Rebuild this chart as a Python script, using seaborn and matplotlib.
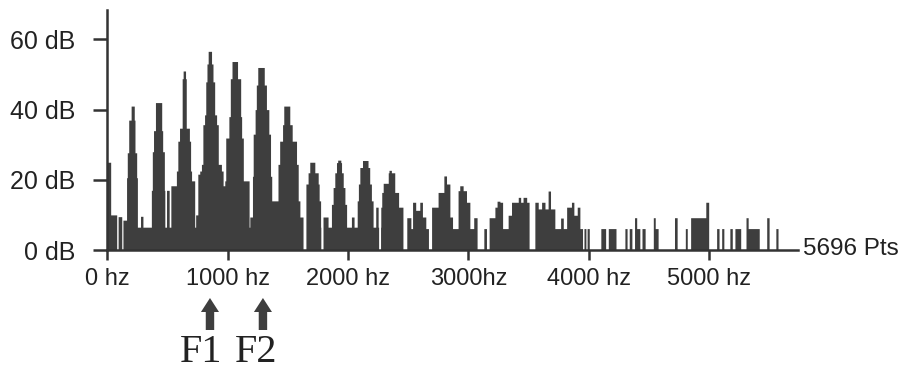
import numpy as np
import pandas as pd
import seaborn as sns
import matplotlib
matplotlib.use("Agg")
import matplotlib.pyplot as plt
import matplotlib.transforms as mtransforms
from matplotlib.patches import FancyArrow

# ---------------- data ----------------
# step segments of the spectrum: (start Hz, end Hz, level dB); overlapping steps combine by maximum
floor_steps = [(131, 2500, 6.5), (2500, 3949, 6.1)]

harmonic_steps_low = [
    (0, 29, 25), (29, 79, 10), (91, 120, 9.5), (131, 162, 8.5),
    (160, 251, 20.6), (166, 245, 27.7), (179, 231, 37), (199, 224, 41),
    (276, 297, 9.6),
    (367, 478, 17), (374, 474, 28), (384, 461, 34), (401, 452, 42),
    (492, 514, 17), (528, 575, 18.3),
    (575, 700, 22.5), (586, 693, 31), (600, 682, 34.7), (623, 657, 48.8), (630, 650, 51),
    (700, 727, 19.7), (735, 752, 10),
    (752, 783, 21.6), (769, 962, 22.5), (783, 949, 24.4), (794, 923, 35.7),
    (808, 909, 38.5), (819, 893, 47.9), (829, 879, 53), (838, 866, 56.6),
    (957, 985, 18.3),
    (976, 1178, 19.7), (985, 1130, 31.9), (1010, 1117, 38), (1022, 1109, 48.8), (1037, 1082, 53.7),
    (1184, 1207, 9.4),
    (1207, 1367, 21), (1212, 1357, 33), (1228, 1342, 40), (1238, 1322, 47), (1250, 1305, 52),
    (1367, 1406, 14),
    (1406, 1600, 14), (1419, 1586, 24.4), (1433, 1572, 31), (1456, 1536, 35.7), (1466, 1517, 41),
    (1600, 1627, 9.4),
]

harmonic_steps_mid = [
    (1647, 1772, 14), (1650, 1760, 18.8), (1669, 1752, 22), (1683, 1724, 25),
    (1793, 1835, 9.4),
    (1863, 1988, 13), (1877, 1975, 17.8), (1891, 1960, 22), (1905, 1946, 24.9), (1915, 1940, 25.6),
    (2029, 2051, 9.4),
    (2076, 2209, 14), (2087, 2195, 18.8), (2098, 2181, 23.5), (2121, 2167, 25.5),
    (2231, 2250, 12.2),
    (2273, 2445, 12.2), (2280, 2420, 16.4), (2292, 2362, 19), (2334, 2389, 22), (2340, 2360, 22.7),
    (2414, 2456, 12.2),
    (2489, 2522, 9.2),
    (2536, 2563, 13.6), (2563, 2597, 11.3), (2597, 2619, 13.6), (2619, 2646, 9.4),
    (2694, 2790, 12.2), (2749, 2796, 16.4), (2796, 2819, 21.1), (2819, 2846, 18.8), (2846, 2869, 9.4),
    (2915, 2985, 16.9), (2929, 2957, 18.3), (2985, 3012, 13.6),
    (3045, 3073, 9.2),
    (3173, 3220, 9.2), (3220, 3262, 12.2), (3239, 3262, 13.9), (3262, 3284, 13.6),
    (3331, 3359, 9.9), (3359, 3414, 13.6), (3414, 3434, 15), (3434, 3455, 13.6),
    (3455, 3484, 15), (3484, 3505, 13.6),
    (3553, 3580, 13.6), (3580, 3608, 11.7), (3608, 3636, 13.6), (3636, 3663, 11.7),
    (3663, 3683, 16.8), (3683, 3719, 11.7),
    (3766, 3788, 9.1),
    (3816, 3857, 12.2), (3857, 3877, 13.6), (3877, 3904, 9.9), (3904, 3926, 12.2),
]

high_band_spikes = [
    (3960, 3976, 6.1), (3987, 4004, 6.1), (4100, 4140, 6.1), (4162, 4226, 6.1),
    (4300, 4319, 6.1), (4336, 4359, 6.1), (4381, 4398, 9.2), (4398, 4425, 6.1),
    (4443, 4469, 6.1), (4536, 4552, 9.2), (4552, 4577, 6.1), (4713, 4735, 9.2),
    (4802, 4818, 6.1), (4846, 4973, 9.2), (4973, 4996, 13.6), (5062, 5082, 6.1),
    (5104, 5123, 6.1), (5173, 5192, 6.1), (5215, 5262, 6.1), (5306, 5325, 9.2),
    (5325, 5416, 6.1), (5478, 5499, 9.2), (5555, 5572, 6.1),
]

# places where the spectrum drops to 0 dB: (start Hz, end Hz)
gaps_hz = [(79, 91), (120, 131), (1627, 1650), (1774, 1793), (2254, 2270),
           (2456, 2489), (2669, 2694), (3073, 3129), (3151, 3173), (3505, 3553)]

x_ticks_hz = [0, 1000, 2000, 3000, 4000, 5000]
x_tick_labels = ["0 hz", "1000 hz", "2000 hz", "3000hz", "4000 hz", "5000 hz"]
y_ticks_db = [0, 20, 40, 60]
y_tick_labels = ["0 dB", "20 dB", "40 dB", "60 dB"]
points_label = "5696 Pts"
formants = ["F1", "F2"]
formant_arrow_hz = [853, 1293]
formant_label_hz = [775, 1240]

# ---------------- build step spectrum ----------------
x_max = 5738
bin_w = 2.0
edges = np.arange(0, x_max + bin_w, bin_w)
centers = (edges[:-1] + edges[1:]) / 2
level = np.zeros_like(centers)
for lo, hi, db in floor_steps + harmonic_steps_low + harmonic_steps_mid + high_band_spikes:
    m = (centers >= lo) & (centers < hi)
    level[m] = np.maximum(level[m], db)
for lo, hi in gaps_hz:
    level[(centers >= lo) & (centers < hi)] = 0
df = pd.DataFrame({"freq": centers, "db": level})

# ---------------- draw ----------------
sns.set_theme(style="white")
plt.rcParams["font.family"] = ["Liberation Sans", "DejaVu Sans"]
ink = "#3e3e3e"
axis_col = "#333333"
text_col = "#222222"

fig = plt.figure(figsize=(9.05, 3.70), dpi=100)
ax = fig.add_axes([107.3 / 905, 120 / 370, (798 - 107.3) / 905, (250 - 10) / 370])

sns.histplot(data=df, x="freq", weights="db", binwidth=bin_w,
             binrange=(0, float(edges[-1])), element="step",
             fill=True, color=ink, alpha=1.0, linewidth=0, ax=ax)

ax.set_xlim(0, x_max)
ax.set_ylim(0, 240 / 3.51)
ax.set_xlabel("")
ax.set_ylabel("")
for s in ["top", "right"]:
    ax.spines[s].set_visible(False)
for s in ["left", "bottom"]:
    ax.spines[s].set_color(axis_col)
    ax.spines[s].set_linewidth(1.8)

ax.set_xticks(x_ticks_hz)
ax.set_xticklabels(x_tick_labels)
ax.set_yticks(y_ticks_db)
ax.set_yticklabels(y_tick_labels)
ax.tick_params(axis="x", direction="out", length=7, width=1.8, color=axis_col,
               pad=6, labelsize=17, labelcolor=text_col, bottom=True)
ax.tick_params(axis="y", direction="out", length=10, width=1.8, color=axis_col,
               pad=13, labelsize=18, labelcolor=text_col, left=True)
ax.grid(False)

fig.text(803 / 905, (370 - 249) / 370, points_label, fontsize=17.5, color=text_col,
         ha="left", va="center")

# formant arrows and labels
trans = mtransforms.blended_transform_factory(ax.transData, fig.dpi_scale_trans)
ttrans = mtransforms.blended_transform_factory(ax.transData, fig.transFigure)
for name, fa, fl in zip(formants, formant_arrow_hz, formant_label_hz):
    arr = FancyArrow(fa, 0.40, 0, 0.32, width=70, head_width=150, head_length=0.14,
                     length_includes_head=True, transform=trans, color=ink, lw=0)
    fig.add_artist(arr)
    fig.text(fl, (370 - 352) / 370, name, transform=ttrans, ha="center", va="center",
             fontsize=29, family=["Liberation Serif", "DejaVu Serif"], color=text_col)

fig.savefig("out.png", dpi=100, facecolor="white")
